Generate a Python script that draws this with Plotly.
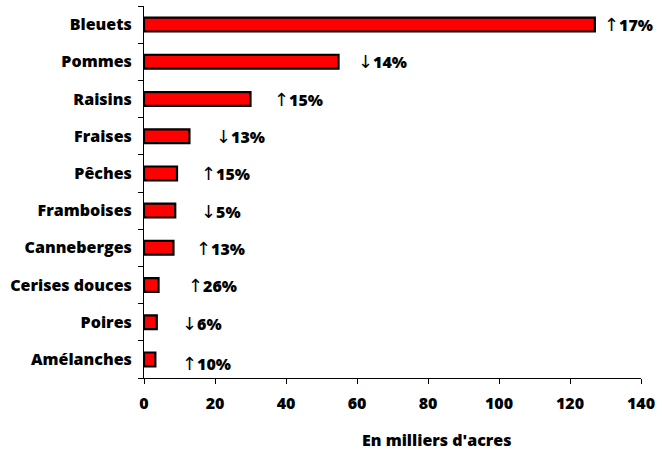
import plotly.graph_objects as go

# Superficie cultivée par fruit (milliers d'acres) et variation en pourcentage
fruits = ["Bleuets", "Pommes", "Raisins", "Fraises", "Pêches", "Framboises",
          "Canneberges", "Cerises douces", "Poires", "Amélanches"]
acres = [127, 54.8, 30, 12.8, 9.3, 8.8, 8.3, 4.1, 3.6, 3.2]
variation = [17, -14, 15, -13, 15, -5, 13, 26, -6, 10]

x_ticks = [0, 20, 40, 60, 80, 100, 120, 140]

# Horizontal gap (px) between each bar end and its variation label
label_gap = [7, 17, 21, 25, 22, 24, 21, 27, 23, 25]
label_drop = [0, 0, -1, -1, -1, -1, -1, -1, -2, -5]

FONT = "'Open Sans', Lato, sans-serif"
WEIGHT = 800

fig = go.Figure(go.Bar(
    y=fruits,
    x=acres,
    orientation="h",
    width=0.37,
    marker=dict(color="#ff0000", line=dict(color="black", width=2.2)),
    hoverinfo="x+y",
))

for name, val, pct, gap, drop in zip(fruits, acres, variation, label_gap, label_drop):
    arrow = "↑" if pct > 0 else "↓"
    fig.add_annotation(
        x=val, y=name, xref="x", yref="y",
        text=f'<span style="font-weight:normal;font-family:DejaVu Sans;font-size:18px">{arrow}</span>'
             f'{abs(pct)}%',
        showarrow=False, xanchor="left", yanchor="middle",
        xshift=gap, yshift=drop,
        font=dict(family=FONT, size=16, color="black", weight=WEIGHT),
    )

# axis title, placed in paper coordinates
fig.add_annotation(
    xref="paper", yref="paper",
    x=(436 - 144) / (641 - 144), y=-(440 - 378) / (378 - 6),
    xanchor="center", yanchor="middle",
    text="En milliers d'acres", showarrow=False,
    font=dict(family=FONT, size=16, color="black", weight=WEIGHT),
)

fig.update_layout(
    width=662, height=450,
    margin=dict(l=144, r=21, t=6, b=72),
    paper_bgcolor="white", plot_bgcolor="white",
    showlegend=False,
    font=dict(family=FONT, size=16, color="black"),
)

tickfont = dict(family=FONT, size=16, color="black", weight=WEIGHT)

fig.update_xaxes(
    range=[0, 140], tickvals=x_ticks,
    showgrid=False, zeroline=False,
    showline=True, linecolor="black", linewidth=1,
    ticks="outside", ticklen=5, tickcolor="black",
    ticklabelstandoff=6, tickfont=tickfont,
)
fig.update_yaxes(
    categoryorder="array", categoryarray=fruits[::-1],
    tickson="boundaries",
    showgrid=False, zeroline=False,
    showline=True, linecolor="black", linewidth=1,
    ticks="outside", ticklen=5, tickcolor="black",
    ticklabelstandoff=8, tickfont=tickfont,
)

fig.write_html("out.html")
